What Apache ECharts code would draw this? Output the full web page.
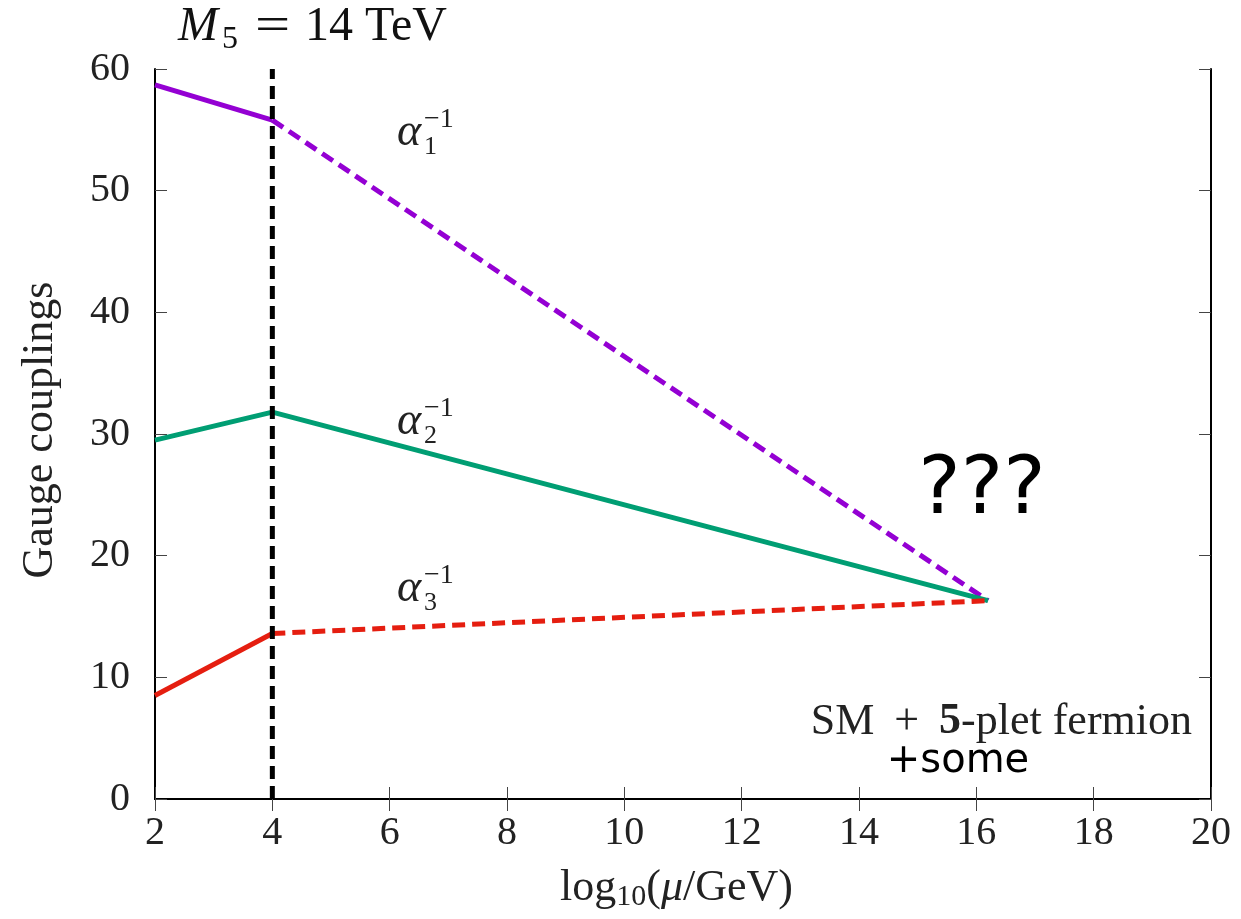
<!DOCTYPE html>
<html>
<head>
<meta charset="utf-8">
<script src="https://cdn.jsdelivr.net/npm/echarts@6/dist/echarts.min.js"></script>
<style>
  html, body { margin: 0; padding: 0; background: #fff; }
  #chart { width: 1241px; height: 919px; }
</style>
</head>
<body>
<div id="chart"></div>
<script>
// data
var xTicks = [2, 4, 6, 8, 10, 12, 14, 16, 18, 20];
var yTicks = [0, 10, 20, 30, 40, 50, 60];
var alpha1Solid = [[2, 58.7], [4, 55.8]];
var alpha1Dash = [[4, 55.8], [16.2, 16.3]];
var alpha2Solid = [[2, 29.5], [4, 31.8], [16.2, 16.3]];
var alpha3Solid = [[2, 8.5], [4, 13.6]];
var alpha3Dash = [[4, 13.6], [16.2, 16.3]];
var massLine = [[4, 0], [4, 60]];

var serif = "Liberation Serif";
var purple = "#9400d3", green = "#009e73", red = "#e51e10";

var chart = echarts.init(document.getElementById("chart"));

// alpha_i^{-1} label built from three texts
function alphaLabel(x, y, idx) {
  return [
    { type: "text", left: x, top: y, style: { text: "α", font: "italic 46px " + serif, fill: "#222" } },
    { type: "text", left: x + 27, top: y + 24, style: { text: String(idx), font: "26px " + serif, fill: "#222" } },
    { type: "text", left: x + 27, top: y - 4, style: { text: "−1", font: "28px " + serif, fill: "#222" } }
  ];
}

function axisStyle() {
  return {
    axisLine: { show: true, lineStyle: { color: "#000", width: 2 } },
    axisTick: { show: true, inside: true, length: 12, lineStyle: { color: "#444", width: 1 } },
    splitLine: { show: false }
  };
}

var xBottom = Object.assign({
  type: "value", min: 2, max: 20, interval: 2, position: "bottom",
  axisLabel: { fontFamily: serif, fontSize: 40, color: "#222", margin: 14 }
}, axisStyle());
var xTop = Object.assign({
  type: "value", min: 2, max: 20, interval: 2, position: "top",
  axisLabel: { show: false }
}, axisStyle());
var yLeft = Object.assign({
  type: "value", min: 0, max: 60, interval: 10, position: "left",
  axisLabel: { fontFamily: serif, fontSize: 40, color: "#222", margin: 25 }
}, axisStyle());
var yRight = Object.assign({
  type: "value", min: 0, max: 60, interval: 10, position: "right",
  axisLabel: { show: false }
}, axisStyle());

function seg(data, color, dashed, z) {
  return {
    type: "line", data: data, symbol: "none", z: z || 2, animation: false,
    lineStyle: { color: color, width: 5, type: dashed ? [13, 7] : "solid" }
  };
}

chart.setOption({
  backgroundColor: "#fff",
  animation: false,
  grid: { left: 155, right: 30, top: 69, bottom: 120 },
  xAxis: [xBottom, xTop],
  yAxis: [yLeft, yRight],
  series: [
    seg(alpha1Solid, purple, false),
    seg(alpha1Dash, purple, true),
    seg(alpha2Solid, green, false),
    seg(alpha3Solid, red, false),
    seg(alpha3Dash, red, true),
    seg(massLine, "#000", true, 5)
  ],
  graphic: [
    // title M_5 = 14 TeV
    { type: "text", left: 178, top: 3, style: { text: "M", font: "italic 48px " + serif, fill: "#111" } },
    { type: "text", left: 222, top: 24, style: { text: "5", font: "32px " + serif, fill: "#111" } },
    { type: "text", left: 255, top: 3, scaleX: 1.3, style: { text: "=", font: "48px " + serif, fill: "#111" } },
    { type: "text", left: 305, top: 3, style: { text: "14 TeV", font: "48px " + serif, fill: "#111" } },
    {
      type: "text", left: 560, top: 866,
      style: {
        text: "{a|log}{s|10}{a|(}{i|μ}{a|/GeV)}",
        rich: {
          a: { font: "44px " + serif, fill: "#222" },
          i: { font: "italic 44px " + serif, fill: "#222" },
          s: { font: "30px " + serif, fill: "#222", verticalAlign: "bottom", padding: [18, 0, 0, 0] }
        }
      }
    },
    {
      type: "text", x: 40, y: 430, rotation: Math.PI / 2,
      style: { text: "Gauge couplings", font: "44px " + serif, fill: "#222", align: "center", verticalAlign: "middle" }
    },
    {
      type: "text", x: 982, y: 492,
      style: { text: "???", font: "80px 'DejaVu Sans'", fill: "#000", align: "center", verticalAlign: "middle" }
    },
    {
      type: "text", x: 1192, y: 722,
      style: {
        text: "{a|SM}{p|+}{b|5}{a|-plet fermion}", align: "right", verticalAlign: "middle",
        rich: {
          a: { font: "44px " + serif, fill: "#222" },
          p: { font: "44px " + serif, fill: "#222", padding: [0, 20, 0, 20] },
          b: { font: "bold 44px " + serif, fill: "#222" }
        }
      }
    },
    {
      type: "text", x: 958, y: 762,
      style: { text: "+some", font: "40px 'DejaVu Sans'", fill: "#000", align: "center", verticalAlign: "middle" }
    }
  ].concat(alphaLabel(397, 110, 1), alphaLabel(397, 399, 2), alphaLabel(397, 566, 3))
});
</script>
</body>
</html>
